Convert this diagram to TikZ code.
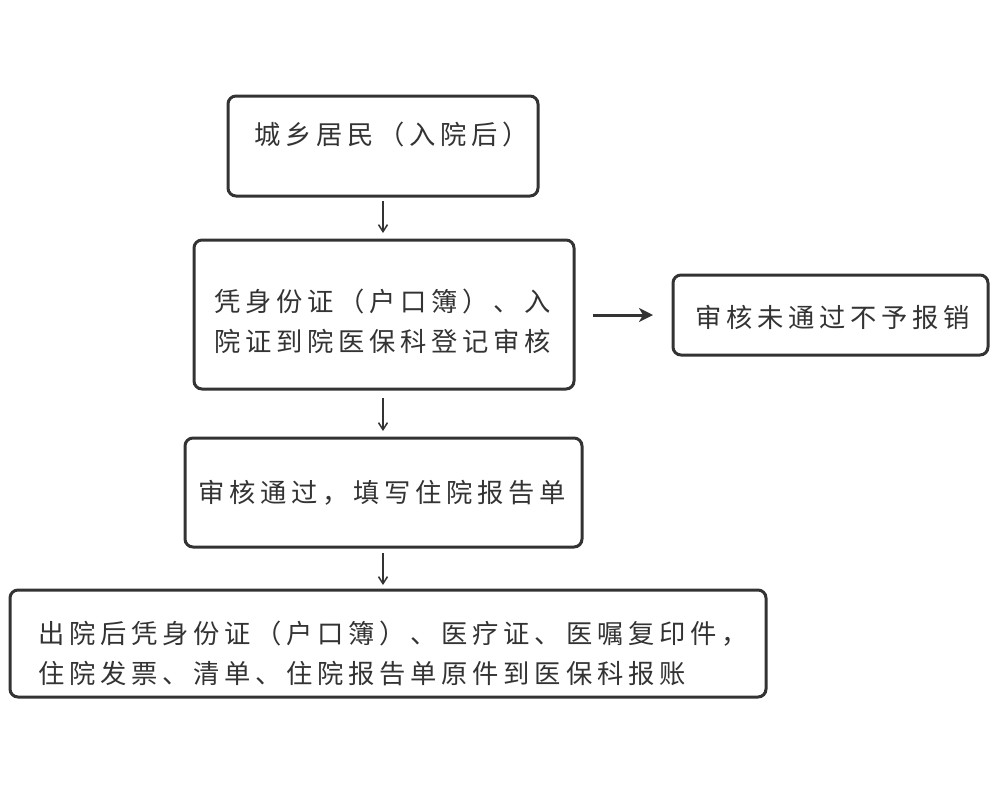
\documentclass[tikz,border=0pt]{standalone}
\usepackage{fontspec}
\usetikzlibrary{arrows.meta}
\newfontfamily\cjk[LetterSpace=18]{Noto Sans CJK SC}
\definecolor{ink}{HTML}{333333}

\tikzset{
  box/.style={draw=ink, line width=3pt, rounded corners=8pt, inner sep=0pt},
  txt/.style={text=ink, font=\cjk\fontsize{26.3}{40}\selectfont, align=left, inner sep=0pt},
  down/.style={draw=ink, line width=1.5pt, -{Straight Barb[length=7pt, width=9pt]}},
  side/.style={draw=ink, line width=3pt, -{Stealth[length=14pt, width=14pt, inset=4pt]}}
}

\begin{document}
\begin{tikzpicture}[x=1pt, y=-1pt]

  \useasboundingbox (0, 0) rectangle (1000, 785);

  % 方框
  \node[box, minimum width=310pt, minimum height=100pt] (resident) at (383, 146) {};
  \node[box, minimum width=380pt, minimum height=149pt] (register) at (384, 314.5) {};
  \node[box, minimum width=315pt, minimum height=80pt] (reject) at (830.5, 315) {};
  \node[box, minimum width=397pt, minimum height=109pt] (pass) at (383.5, 492.5) {};
  \node[box, minimum width=756pt, minimum height=107pt] (claim) at (388, 643.5) {};

  % 文字
  \node[txt] (t1) at (392, 135) {城乡居民（入院后）};
  \node[txt] (t2) at (383, 321) {凭身份证（户口簿）、入\\院证到院医保科登记审核};
  \node[txt] (t3) at (382, 493) {审核通过，填写住院报告单};
  \node[txt] (t4) at (833, 317) {审核未通过不予报销};
  \node[txt] (t5) at (393, 653.5) {出院后凭身份证（户口簿）、医疗证、医嘱复印件，\\住院发票、清单、住院报告单原件到医保科报账};

  % 箭头
  \coordinate (a1) at (383, 201);
  \coordinate (a2) at (383, 233);
  \coordinate (b1) at (383, 398);
  \coordinate (b2) at (383, 431);
  \coordinate (c1) at (383, 553);
  \coordinate (c2) at (383, 585);
  \coordinate (d1) at (593, 315);
  \coordinate (d2) at (653, 315);
  \draw[down] (a1) -- (a2);
  \draw[down] (b1) -- (b2);
  \draw[down] (c1) -- (c2);
  \draw[side] (d1) -- (d2);

\end{tikzpicture}
\end{document}
